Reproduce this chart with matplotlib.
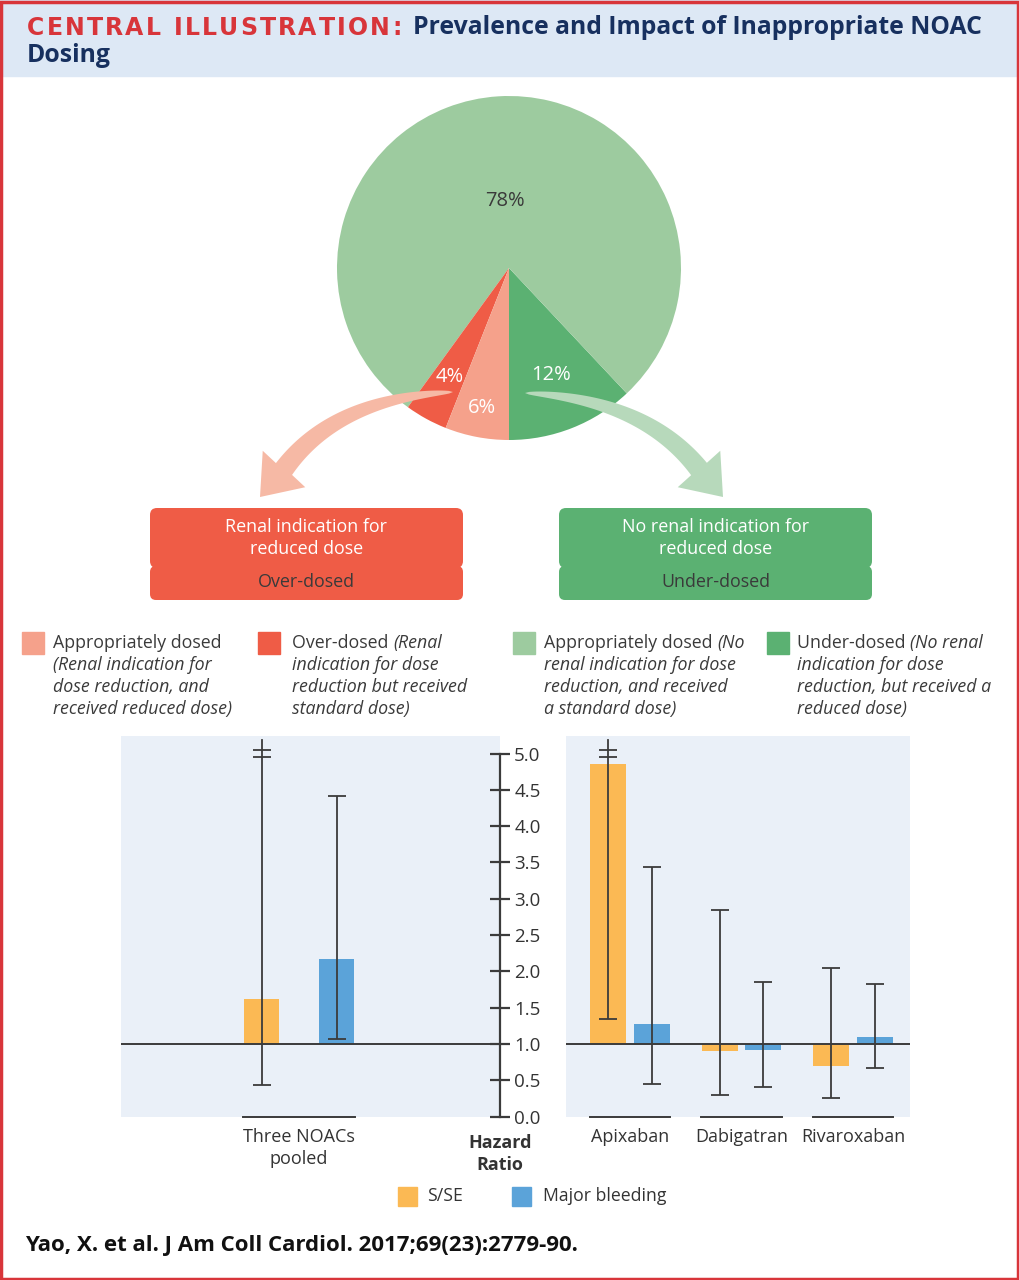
import numpy as np
import matplotlib
matplotlib.use("Agg")
import matplotlib.pyplot as plt
from matplotlib.patches import Rectangle, FancyBboxPatch, Polygon
from matplotlib import font_manager

# ============================================================
# DATA
# ============================================================

pie_labels = ['12%', '78%', '4%', '6%']
pie_values = [12, 78, 4, 6]

pooled_groups = ['Three NOACs\npooled']
pooled_sse = [1.62]
pooled_sse_lo = [0.43]
pooled_sse_hi = [None]          # upper CI off the scale
pooled_bleed = [2.17]
pooled_bleed_lo = [1.07]
pooled_bleed_hi = [4.42]

drug_groups = ['Apixaban', 'Dabigatran', 'Rivaroxaban']
drug_sse = [4.86, 0.90, 0.69]
drug_sse_lo = [1.34, 0.30, 0.26]
drug_sse_hi = [None, 2.85, 2.05]
drug_bleed = [1.28, 0.92, 1.10]
drug_bleed_lo = [0.45, 0.41, 0.67]
drug_bleed_hi = [3.43, 1.85, 1.83]

hr_ticks = [0.0, 0.5, 1.0, 1.5, 2.0, 2.5, 3.0, 3.5, 4.0, 4.5, 5.0]

# ============================================================
# STYLE
# ============================================================

W, H = 1020, 1280
names = {f.name for f in font_manager.fontManager.ttflist}
NARROW = 'Liberation Sans Narrow' if 'Liberation Sans Narrow' in names else 'Open Sans'
SANS = 'Open Sans'

C_LGREEN = '#9dcb9f'
C_DGREEN = '#5bb172'
C_SALMON = '#f5a18b'
C_RED = '#ef5c46'
C_ORANGE = '#fbb954'
C_BLUE = '#5ba3d9'
C_PANEL = '#eaf0f8'
C_DARK = '#3b3b3b'
C_TEXT = '#333333'
C_NAVY = '#17305f'
C_TITLERED = '#d8353a'

fig = plt.figure(figsize=(W / 100, H / 100), dpi=100)
renderer = fig.canvas.get_renderer()


def px_axes(x0, y0, x1, y1, **kw):
    return fig.add_axes([x0 / W, 1 - y1 / H, (x1 - x0) / W, (y1 - y0) / H], **kw)


bg = px_axes(0, 0, W, H, zorder=0)
bg.set_xlim(0, W)
bg.set_ylim(H, 0)
bg.axis('off')


def rich_text(ax, x, y, parts, tracking=0):
    # parts = [(text, color, weight, style, size, family), ...] drawn one after another
    for txt, color, weight, style, size, family in parts:
        t = ax.text(x, y, txt, color=color, fontsize=size, fontweight=weight,
                    fontstyle=style, family=family, va='center', ha='left')
        x += t.get_window_extent(renderer=renderer).width + tracking
    return x


# ============================================================
# HEADER + FRAME
# ============================================================

bg.add_patch(Rectangle((0, 0), W, 76, color='#dde8f5', zorder=0))
bg.add_patch(Rectangle((1.5, 1.5), W - 3, H - 3, fill=False, ec=C_TITLERED, lw=2.5, zorder=5))
# letter-spaced red label, char by char
xe = rich_text(bg, 27, 28, [(ch, C_TITLERED, 'bold', 'normal', 17, 'DejaVu Sans')
                            for ch in 'CENTRAL ILLUSTRATION:'], tracking=2.2)
rich_text(bg, xe + 9, 28, [('Prevalence and Impact of Inappropriate NOAC', C_NAVY, 'bold',
                            'normal', 17.8, NARROW)])
rich_text(bg, 27, 55, [('Dosing', C_NAVY, 'bold', 'normal', 17.8, NARROW)])

# ============================================================
# PIE
# ============================================================

R_PX = 172
pie_ax = px_axes(509 - 200, 268 - 200, 509 + 200, 268 + 200, zorder=2)
wedges, _ = pie_ax.pie(pie_values, colors=[C_DGREEN, C_LGREEN, C_RED, C_SALMON],
                       startangle=-90, counterclock=True, radius=1,
                       wedgeprops=dict(lw=0))
pie_ax.axis('off')
pie_ax.set_xlim(-200 / R_PX, 200 / R_PX)
pie_ax.set_ylim(-200 / R_PX, 200 / R_PX)
label_dist = [0.67, 0.39, 0.72, 0.83]
label_col = ['white', '#3a3a3a', 'white', 'white']
for w, lab, d, c in zip(wedges, pie_labels, label_dist, label_col):
    ang = np.deg2rad((w.theta1 + w.theta2) / 2)
    pie_ax.text(d * np.cos(ang), d * np.sin(ang), lab, ha='center', va='center',
                color=c, fontsize=14.5, family=SANS)

# ============================================================
# BOXES AND LEGEND
# ============================================================

for x0, col, l1, l2, l3 in [(150, C_RED, 'Renal indication for', 'reduced dose', 'Over-dosed'),
                            (559, C_DGREEN, 'No renal indication for', 'reduced dose', 'Under-dosed')]:
    bg.add_patch(FancyBboxPatch((x0, 508), 313, 60, boxstyle='round,pad=0,rounding_size=7',
                                fc=col, ec='none'))
    bg.add_patch(FancyBboxPatch((x0, 566), 313, 34, boxstyle='round,pad=0,rounding_size=6',
                                fc=col, ec='none'))
    cx = x0 + 156.5
    bg.text(cx, 527, l1, ha='center', va='center', color='white', fontsize=12.9, family=NARROW)
    bg.text(cx, 549, l2, ha='center', va='center', color='white', fontsize=12.9, family=NARROW)
    bg.text(cx, 582, l3, ha='center', va='center', color='#3a3a3a', fontsize=12.9, family=NARROW)

legend_cols = [
    (22, 53, C_SALMON, [[('Appropriately dosed', 'normal')],
                        [('(Renal indication for', 'italic')],
                        [('dose reduction, and', 'italic')],
                        [('received reduced dose)', 'italic')]]),
    (258, 292, C_RED, [[('Over-dosed ', 'normal'), ('(Renal', 'italic')],
                       [('indication for dose', 'italic')],
                       [('reduction but received', 'italic')],
                       [('standard dose)', 'italic')]]),
    (513, 544, C_LGREEN, [[('Appropriately dosed ', 'normal'), ('(No', 'italic')],
                          [('renal indication for dose', 'italic')],
                          [('reduction, and received', 'italic')],
                          [('a standard dose)', 'italic')]]),
    (767, 797, C_DGREEN, [[('Under-dosed ', 'normal'), ('(No renal', 'italic')],
                          [('indication for dose', 'italic')],
                          [('reduction, but received a', 'italic')],
                          [('reduced dose)', 'italic')]]),
]
for sx, tx, col, lines in legend_cols:
    bg.add_patch(Rectangle((sx, 632), 22, 22, color=col))
    for i, line in enumerate(lines):
        rich_text(bg, tx, 643 + 22 * i,
                  [(t, '#3a3a3a', 'normal', s, 12.8, NARROW) for t, s in line])

# ============================================================
# HAZARD RATIO PANELS
# ============================================================

Y0, Y1 = 736, 1116.5
YMAX = (Y1 - Y0) / 72.6


def draw_panel(ax, groups, sse, sse_lo, sse_hi, bleed, b_lo, b_hi, off, width, uhalf):
    ax.set_facecolor(C_PANEL)
    ax.set_ylim(0, YMAX)
    for s in ['top', 'left', 'bottom', 'right']:
        ax.spines[s].set_visible(False)
    ax.axhline(1.0, color=C_DARK, lw=1.4, zorder=3)
    pos = np.arange(len(groups))
    for vals, lo, hi, col, sign in [(sse, sse_lo, sse_hi, C_ORANGE, -1),
                                    (bleed, b_lo, b_hi, C_BLUE, 1)]:
        xs = pos + sign * off
        ax.bar(xs, np.array(vals) - 1, bottom=1, width=width, color=col, zorder=2)
        for x, v, l, h in zip(xs, vals, lo, hi):
            top = 4.95 if h is None else h
            ax.errorbar([x], [v], yerr=[[v - l], [top - v]], fmt='none', ecolor=C_DARK,
                        elinewidth=1.3, capsize=6.5, capthick=1.3, zorder=4)
            if h is None:
                # broken upper whisker
                ax.plot([x, x], [4.95, 5.18], color=C_DARK, lw=1.3, zorder=4)
                ax.plot([x], [5.05], marker='_', ms=13, mew=1.3, color=C_DARK, zorder=4)
    for p in pos:
        ax.plot([p - uhalf, p + uhalf], [0, 0], color=C_DARK, lw=1.4, clip_on=False, zorder=5)
    ax.set_xticks(pos, groups)
    ax.tick_params(axis='x', length=0, pad=8, labelsize=13, labelcolor=C_TEXT)
    for t in ax.get_xticklabels():
        t.set_family(SANS)
        t.set_linespacing(1.3)
        t.set_va('top')


# left: pooled
axL = px_axes(121, Y0, 500, Y1, zorder=1)
axL.set_xlim(-178 / 75, (379 - 178) / 75)
draw_panel(axL, pooled_groups, pooled_sse, pooled_sse_lo, pooled_sse_hi,
           pooled_bleed, pooled_bleed_lo, pooled_bleed_hi, 0.5, 0.47, 0.75)
axL.spines['right'].set_visible(True)
axL.spines['right'].set_bounds(0, 5)
axL.spines['right'].set_color(C_DARK)
axL.spines['right'].set_linewidth(1.6)
axL.yaxis.tick_right()
axL.set_yticks(hr_ticks, [f'{v:.1f}' for v in hr_ticks])
axL.tick_params(axis='y', direction='inout', length=14.4, width=1.6, color=C_DARK,
                pad=3, labelsize=13.5, labelcolor=C_TEXT)
for t in axL.get_yticklabels():
    t.set_family(SANS)
axL.text(1.0, -0.045, 'Hazard\nRatio', transform=axL.transAxes, ha='center', va='top',
         fontsize=13, fontweight='bold', family=SANS, color=C_TEXT, linespacing=1.3)

# right: individual NOACs
axR = px_axes(566, Y0, 910, Y1, zorder=1)
axR.set_xlim(-64 / 111.5, 2 + 57 / 111.5)
draw_panel(axR, drug_groups, drug_sse, drug_sse_lo, drug_sse_hi,
           drug_bleed, drug_bleed_lo, drug_bleed_hi, 0.195, 0.32, 0.36)
axR.set_yticks([])

# bottom legend
for sx, tx, col, lab in [(398, 427, C_ORANGE, 'S/SE'), (512, 543, C_BLUE, 'Major bleeding')]:
    bg.add_patch(Rectangle((sx, 1187), 19, 19, color=col))
    bg.text(tx, 1196, lab, va='center', ha='left', fontsize=12.7, family=SANS, color=C_TEXT)

bg.text(25, 1246, 'Yao, X. et al. J Am Coll Cardiol. 2017;69(23):2779-90.', va='center',
        ha='left', fontsize=16, fontweight='bold', family=SANS, color='#111111')

# ============================================================
# CURVED ARROWS (over the pie)
# ============================================================

top = px_axes(0, 0, W, H, zorder=10)
top.set_xlim(0, W)
top.set_ylim(H, 0)
top.axis('off')


def curved_arrow(ax, p0, p1, p2, tip, head_w, w_max, color):
    # quadratic bezier shaft, pointed at the tail, widening towards the head
    p0, p1, p2, tip = map(np.asarray, (p0, p1, p2, tip))
    t = np.linspace(0, 1, 60)[:, None]
    pts = (1 - t) ** 2 * p0 + 2 * (1 - t) * t * p1 + t ** 2 * p2
    d = 2 * (1 - t) * (p1 - p0) + 2 * t * (p2 - p1)
    n = np.column_stack([-d[:, 1], d[:, 0]]) / np.linalg.norm(d, axis=1)[:, None]
    w = w_max * np.sqrt(t) / 2
    left = pts + n * w
    right = pts - n * w
    u = (tip - p2) / np.linalg.norm(tip - p2)
    hn = np.array([-u[1], u[0]])
    poly = np.vstack([left, [p2 + hn * head_w / 2], [tip], [p2 - hn * head_w / 2], right[::-1]])
    ax.add_patch(Polygon(poly, closed=True, fc=color, ec='none'))


curved_arrow(top, (453, 392), (336, 398), (284, 469), (260, 497), 56, 20, '#f6b9a5')
curved_arrow(top, (525, 393), (644, 399), (699, 469), (723, 497), 56, 20, '#b7d9bb')

fig.savefig('out.png', dpi=100)
